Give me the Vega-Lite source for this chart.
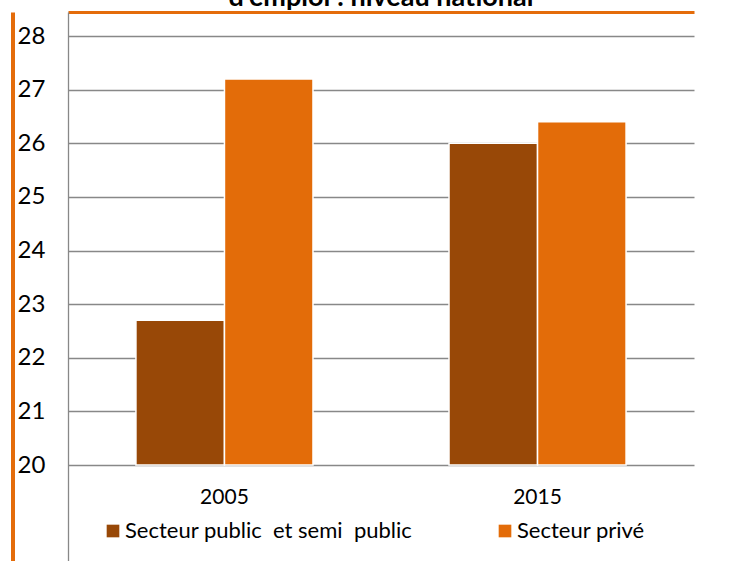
{
  "$schema": "https://vega.github.io/schema/vega-lite/v6.json",
  "autosize": {"type": "none"},
  "padding": {"left": 68, "top": 12, "right": 58, "bottom": 0},
  "width": 626,
  "height": 549,
  "background": "white",
  "config": {"view": {"stroke": null}, "font": "Lato"},
  "title": {
    "text": "d'emploi : niveau national",
    "frame": "group",
    "anchor": "middle",
    "baseline": "alphabetic",
    "offset": 0,
    "dy": 21,
    "fontSize": 27,
    "fontWeight": "bold",
    "color": "#000000",
    "font": "Lato"
  },
  "data": {
    "values": [
      {"annee": "2005", "secteur": "Secteur public\u00a0 et semi\u00a0 public", "valeur": 22.7},
      {"annee": "2005", "secteur": "Secteur privé", "valeur": 27.2},
      {"annee": "2015", "secteur": "Secteur public\u00a0 et semi\u00a0 public", "valeur": 26.0},
      {"annee": "2015", "secteur": "Secteur privé", "valeur": 26.4}
    ]
  },
  "layer": [
    {
      "mark": {"type": "bar", "stroke": "white", "strokeWidth": 1.5},
      "encoding": {
        "x": {
          "field": "annee",
          "type": "nominal",
          "scale": {"paddingInner": 0.4345, "paddingOuter": 0.217},
          "axis": {
            "orient": "bottom",
            "offset": -96,
            "domain": false,
            "ticks": false,
            "tickSize": 0,
            "labelPadding": 21,
            "labelFontSize": 21,
            "labelAngle": 0,
            "labelColor": "#000000",
            "labelFont": "Lato",
            "title": null
          }
        },
        "xOffset": {
          "field": "secteur",
          "type": "nominal",
          "scale": {
            "domain": ["Secteur public\u00a0 et semi\u00a0 public", "Secteur privé"],
            "paddingInner": 0,
            "paddingOuter": 0
          }
        },
        "y": {
          "field": "valeur",
          "type": "quantitative",
          "scale": {"domain": [18.2098, 28.4476], "nice": false, "zero": false},
          "axis": {
            "orient": "left",
            "values": [20, 21, 22, 23, 24, 25, 26, 27, 28],
            "grid": true,
            "gridColor": "#888888",
            "gridWidth": 1.3,
            "domain": true,
            "domainColor": "#888888",
            "domainWidth": 1.3,
            "ticks": false,
            "tickSize": 0,
            "labelAlign": "left",
            "labelBaseline": "middle",
            "labelPadding": 51,
            "labelFontSize": 24,
            "labelColor": "#000000",
            "labelFont": "Lato",
            "title": null
          }
        },
        "y2": {"datum": 20},
        "color": {
          "field": "secteur",
          "type": "nominal",
          "scale": {
            "domain": ["Secteur public\u00a0 et semi\u00a0 public", "Secteur privé"],
            "range": ["#984807", "#E36C09"]
          },
          "legend": {
            "orient": "none",
            "legendX": 34,
            "legendY": 508,
            "direction": "horizontal",
            "columns": 2,
            "columnPadding": 81,
            "padding": 0,
            "title": null,
            "symbolType": "square",
            "symbolSize": 160,
            "symbolStrokeWidth": 0,
            "labelOffset": 1,
            "labelFontSize": 22,
            "labelFont": "Lato",
            "labelColor": "#000000",
            "labelLimit": 0
          }
        }
      }
    },
    {
      "mark": {"type": "point", "opacity": 0},
      "encoding": {
        "x": {
          "field": "annee",
          "type": "nominal",
          "scale": {"paddingInner": 0.4345, "paddingOuter": 0.217},
          "axis": {
            "orient": "top",
            "domain": true,
            "domainColor": "#E46C0A",
            "domainWidth": 3,
            "labels": false,
            "ticks": false,
            "grid": false,
            "title": null
          }
        },
        "y": {
          "field": "valeur",
          "type": "quantitative",
          "scale": {"domain": [18.2098, 28.4476], "nice": false, "zero": false},
          "axis": {
            "orient": "left",
            "offset": 55.5,
            "domain": true,
            "domainColor": "#E46C0A",
            "domainWidth": 4,
            "labels": false,
            "ticks": false,
            "grid": false,
            "title": null
          }
        }
      }
    }
  ],
  "resolve": {
    "scale": {"x": "independent", "y": "independent"},
    "axis": {"x": "independent", "y": "independent"}
  }
}
